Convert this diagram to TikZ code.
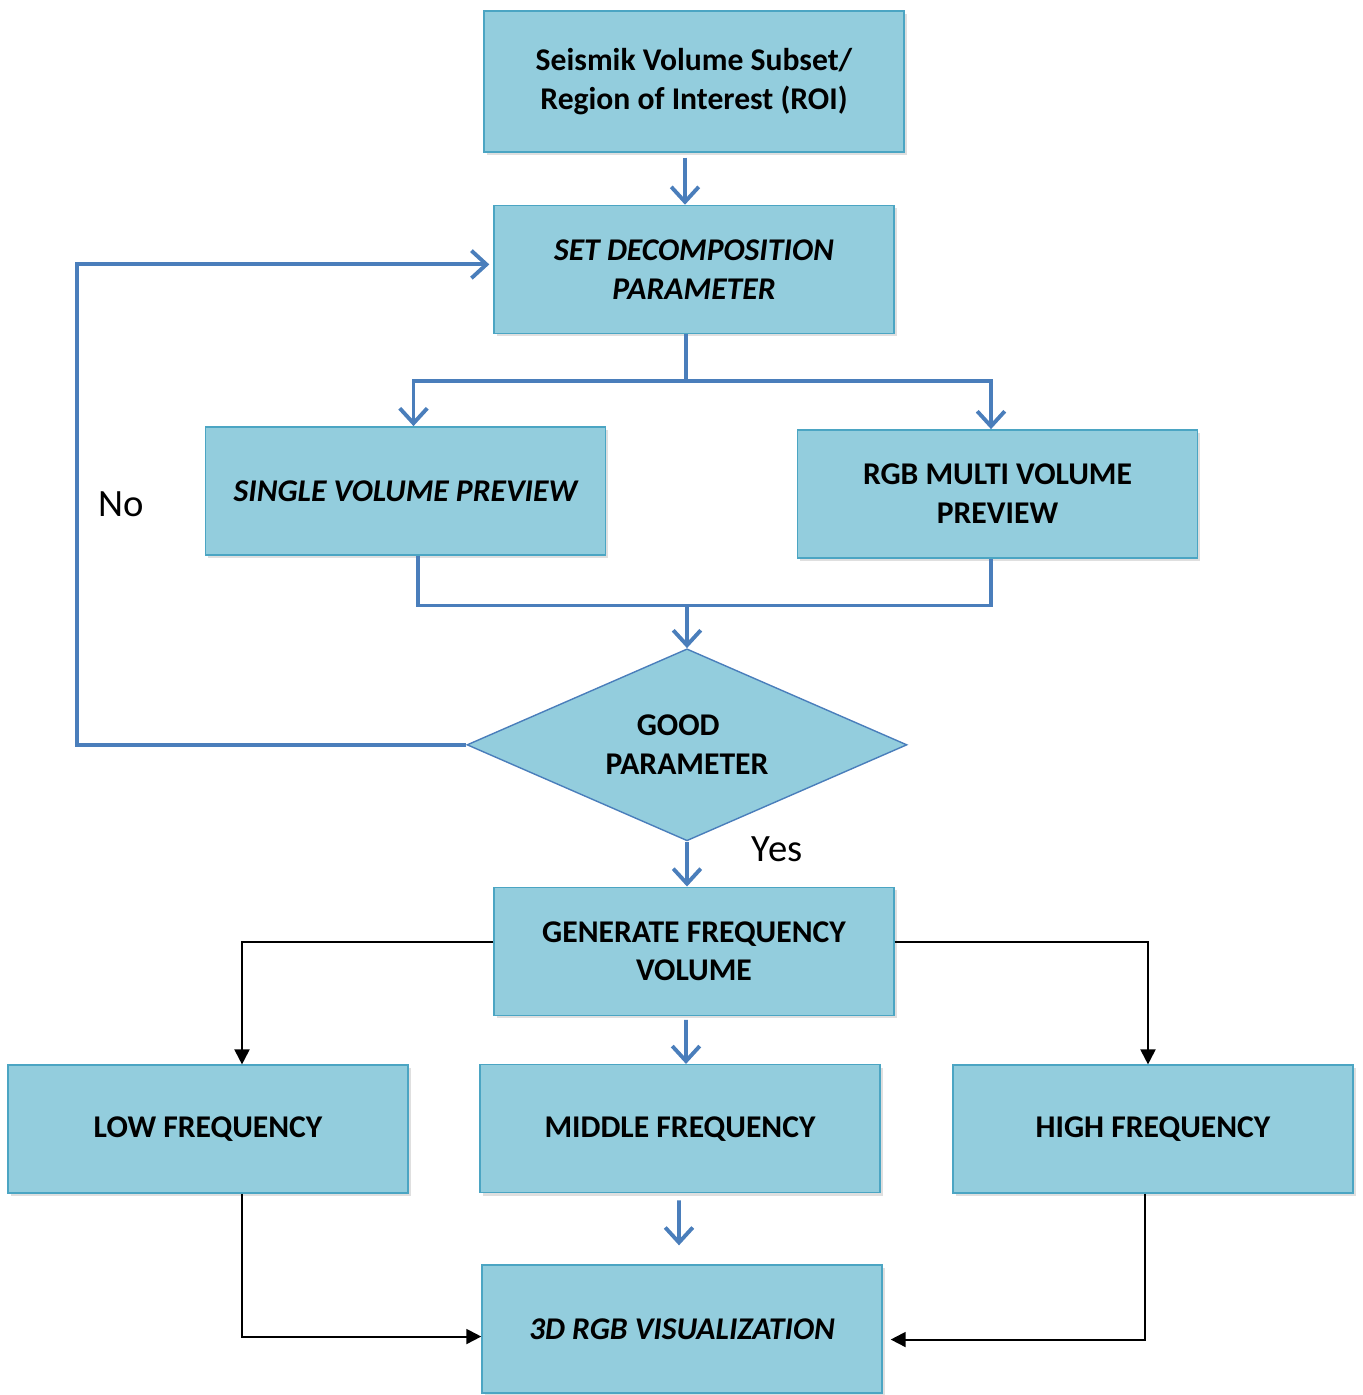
\documentclass[tikz,border=0pt]{standalone}
\usepackage{fontspec}
\setmainfont{Carlito}
\usepackage{tikz}
\usetikzlibrary{shapes.geometric, arrows.meta, positioning, shadows}
\definecolor{boxfill}{RGB}{147,205,221}
\definecolor{boxline}{RGB}{75,165,195}
\definecolor{flowblue}{RGB}{74,126,187}

\begin{document}
\begin{tikzpicture}[
    node distance=1cm and 1cm,
    proc/.style={rectangle, draw=boxline, fill=boxfill, line width=0.8pt,
                 minimum width=8cm, minimum height=2.56cm, align=center,
                 font=\fontsize{18}{22}\selectfont\bfseries,
                 drop shadow={shadow xshift=0.05cm, shadow yshift=-0.06cm, opacity=0.25}},
    iproc/.style={proc, font=\fontsize{18}{22}\selectfont\bfseries\itshape},
    decision/.style={diamond, aspect=2.29, draw=flowblue, fill=boxfill, line width=0.8pt,
                     minimum width=8.8cm, minimum height=3.84cm, inner sep=0pt, align=center,
                     font=\fontsize{18}{22}\selectfont\bfseries},
    lbl/.style={font=\fontsize{22}{26}\selectfont, text=black, inner sep=0pt},
    barr/.style={-{Straight Barb[length=0.3cm, width=0.55cm]}, line width=2.2pt, color=flowblue},
    bline/.style={line width=2.2pt, color=flowblue},
    karr/.style={-{Triangle[length=0.3cm, width=0.3cm]}, line width=1.1pt, color=black}
]
\useasboundingbox (0,0) rectangle (27.26,-27.9);

% ROI
\node[proc, minimum width=8.4cm, minimum height=2.82cm] (roi) at (13.88,-1.63)
    {Seismik Volume Subset/\\Region of Interest (ROI)};

% Decomposition parameter
\node[iproc, below=1.04cm of roi] (setparam) {SET DECOMPOSITION\\PARAMETER};

% Previews
\node[iproc, below=1.84cm of setparam, xshift=-5.77cm] (single) {SINGLE VOLUME PREVIEW};
\node[proc, below=1.9cm of setparam, xshift=6.07cm] (rgb) {RGB MULTI VOLUME\\PREVIEW};

% Check
\node[decision, below=6.28cm of setparam, xshift=-0.14cm] (good) {\hspace*{-0.35cm}GOOD\\PARAMETER};

% Frequency volume
\node[proc, below=0.9cm of good, xshift=0.14cm] (gen) {GENERATE FREQUENCY\\VOLUME};
\node[proc, below=0.97cm of gen, xshift=-9.72cm] (low) {LOW FREQUENCY};
\node[proc, below=0.96cm of gen, xshift=-0.28cm] (mid) {MIDDLE FREQUENCY};
\node[proc, below=0.97cm of gen, xshift=9.18cm] (high) {HIGH FREQUENCY};

% Visualization
\node[iproc, below=1.42cm of mid, xshift=0.04cm] (vis) {3D RGB VISUALIZATION};

% Arrows
\draw[barr, shorten <=0.1cm] ([xshift=-0.18cm]roi.south) -- ([xshift=-0.18cm]setparam.north);

\draw[bline] ([xshift=-0.16cm]setparam.south) -- ++(0,-0.94) coordinate (split);
\draw[barr] (split) -| ([xshift=0.16cm]single.north);
\draw[barr] (split) -| ([xshift=-0.13cm]rgb.north);

\coordinate (merge) at ([xshift=0.25cm, yshift=-1.0cm]single.south);
\draw[bline] ([xshift=0.25cm]single.south) -- (merge) -| ([xshift=-0.13cm]rgb.south);
\draw[barr] (good.north |- merge) -- (good.north);

\draw[barr, shorten >=0.08cm] (good.west) -- ++(-7.78,0)
    |- node[lbl, pos=0.25, right=0.38cm] (no) {No} ([yshift=0.1cm]setparam.west);

\draw[barr] (good.south) -- node[lbl, pos=0.18, right=1.26cm] (yes) {Yes} (good.south |- gen.north);

\draw[karr] ([yshift=0.18cm]gen.west) -| ([xshift=0.68cm]low.north);
\draw[karr] ([yshift=0.18cm]gen.east) -| ([xshift=-0.1cm]high.north);
\draw[barr, shorten <=0.08cm] ([xshift=-0.16cm]gen.south) -- ([xshift=0.12cm]mid.north);

\draw[barr, shorten <=0.14cm, shorten >=0.38cm] ([xshift=-0.02cm]mid.south) -- ([xshift=-0.06cm]vis.north);
\draw[karr] ([xshift=0.68cm]low.south) |- ([yshift=-0.15cm]vis.west);
\draw[karr, shorten >=0.16cm] ([xshift=-0.16cm]high.south) |- ([yshift=-0.21cm]vis.east);

\end{tikzpicture}
\end{document}
